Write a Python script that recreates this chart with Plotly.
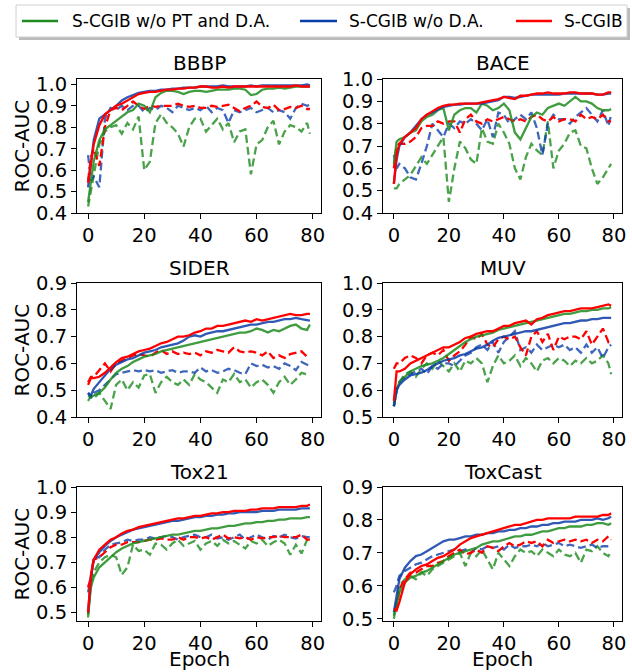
import plotly.graph_objects as go

# ---------------- data ----------------
EPOCHS = [0, 1] + list(range(2, 80, 2)) + [79]

SERIES_NAMES = ["S-CGIB w/o PT and D.A.", "S-CGIB w/o D.A.", "S-CGIB"]
PANEL_TITLES = ["BBBP", "BACE", "SIDER", "MUV", "Tox21", "ToxCast"]
X_TICKS = [0, 20, 40, 60, 80]

# BBBP
bbbp_g_s = [.45,.55,.64,.74,.79,.81,.83,.85,.87,.88,.91,.90,.87,.94,.96,.97,.97,.965,.955,.965,.97,.97,.965,.97,.975,.975,.975,.98,.98,.975,.95,.955,.975,.98,.98,.985,.98,.985,.99,.99,.99,.99]
bbbp_b_s = [.52,.62,.74,.84,.86,.88,.90,.925,.94,.95,.96,.965,.97,.97,.975,.975,.98,.98,.985,.985,.985,.99,.99,.99,.99,.995,.99,.99,.99,.99,.995,.99,.995,.995,.995,.995,.995,.995,.995,.995,1.0,.995]
bbbp_r_s = [.54,.63,.72,.81,.86,.88,.90,.91,.925,.94,.955,.96,.965,.965,.97,.975,.975,.98,.98,.985,.985,.99,.99,.985,.985,.99,.985,.99,.99,.99,.99,.99,.99,.99,.99,.99,.99,.99,.995,.99,.99,.99]
bbbp_g_d = [.43,.50,.58,.72,.78,.80,.81,.77,.82,.79,.85,.60,.64,.82,.86,.82,.80,.77,.71,.80,.84,.84,.78,.81,.84,.79,.82,.73,.78,.79,.58,.72,.74,.80,.83,.72,.78,.81,.80,.78,.82,.77]
bbbp_b_d = [.67,.55,.57,.52,.84,.89,.88,.90,.88,.90,.90,.87,.89,.88,.90,.89,.87,.90,.89,.88,.89,.88,.90,.87,.89,.88,.82,.88,.87,.88,.89,.87,.88,.89,.87,.88,.87,.84,.89,.91,.90,.905]
bbbp_r_d = [.55,.66,.70,.62,.80,.88,.89,.88,.90,.92,.90,.885,.90,.895,.90,.90,.90,.91,.90,.895,.90,.89,.89,.90,.895,.90,.905,.89,.875,.89,.90,.92,.895,.89,.905,.88,.885,.895,.89,.90,.885,.885]

# BACE
bace_g_s = [.62,.72,.73,.74,.76,.77,.81,.83,.84,.86,.87,.77,.84,.86,.87,.87,.85,.89,.88,.86,.87,.89,.86,.76,.73,.78,.83,.85,.84,.87,.88,.89,.88,.90,.92,.90,.90,.89,.87,.86,.86,.865]
bace_b_s = [.53,.64,.70,.74,.76,.79,.82,.84,.85,.865,.875,.88,.885,.885,.89,.89,.89,.89,.895,.90,.905,.92,.92,.915,.92,.925,.93,.93,.93,.93,.93,.93,.935,.935,.935,.935,.935,.935,.93,.93,.935,.935]
bace_r_s = [.53,.66,.71,.74,.76,.78,.82,.84,.855,.87,.88,.885,.885,.89,.89,.89,.89,.895,.90,.905,.91,.92,.915,.91,.925,.925,.93,.935,.935,.94,.935,.935,.935,.94,.94,.935,.935,.935,.93,.93,.94,.94]
bace_g_d = [.51,.51,.53,.55,.57,.61,.65,.62,.66,.70,.74,.45,.60,.72,.69,.64,.62,.78,.72,.71,.80,.76,.71,.60,.55,.65,.71,.68,.66,.81,.60,.68,.71,.76,.77,.70,.69,.60,.53,.56,.60,.62]
bace_b_d = [.66,.60,.62,.60,.56,.55,.62,.70,.80,.77,.74,.80,.78,.81,.80,.82,.80,.77,.82,.74,.85,.84,.80,.82,.84,.82,.85,.78,.66,.80,.84,.82,.82,.80,.83,.85,.87,.84,.81,.86,.79,.84]
bace_r_d = [.60,.70,.71,.71,.72,.74,.78,.79,.79,.81,.80,.81,.81,.76,.82,.84,.81,.80,.82,.81,.82,.83,.82,.81,.82,.81,.83,.84,.82,.81,.83,.81,.82,.82,.81,.84,.82,.83,.82,.84,.81,.81]

# SIDER
sider_g_s = [.48,.475,.48,.49,.51,.54,.565,.58,.59,.605,.615,.625,.63,.635,.645,.65,.655,.66,.665,.67,.675,.68,.685,.69,.695,.70,.705,.71,.715,.715,.72,.73,.725,.715,.725,.72,.73,.74,.745,.73,.725,.745]
sider_b_s = [.49,.48,.505,.53,.555,.58,.595,.605,.615,.62,.63,.64,.645,.65,.66,.665,.67,.675,.685,.70,.705,.70,.71,.715,.72,.72,.725,.73,.735,.74,.745,.745,.75,.755,.755,.76,.765,.765,.77,.765,.76,.76]
sider_r_s = [.52,.545,.545,.55,.565,.585,.605,.62,.625,.635,.645,.65,.655,.665,.675,.68,.69,.70,.70,.705,.715,.72,.73,.73,.74,.74,.745,.75,.755,.76,.755,.765,.76,.765,.77,.775,.78,.785,.78,.78,.785,.785]
sider_g_d = [.46,.48,.47,.49,.46,.43,.52,.54,.50,.53,.51,.555,.56,.49,.53,.55,.53,.52,.54,.52,.56,.54,.53,.51,.49,.54,.53,.56,.53,.54,.51,.53,.54,.52,.49,.53,.55,.52,.54,.565,.56,.555]
sider_b_d = [.49,.47,.49,.50,.52,.54,.56,.565,.57,.575,.57,.575,.57,.575,.565,.57,.575,.565,.57,.57,.565,.585,.57,.575,.565,.57,.58,.575,.565,.56,.60,.59,.595,.585,.59,.58,.60,.59,.575,.605,.595,.59]
sider_r_d = [.53,.55,.55,.575,.60,.57,.60,.61,.62,.63,.635,.63,.625,.64,.65,.635,.645,.635,.64,.635,.64,.63,.645,.64,.65,.645,.64,.66,.645,.64,.645,.64,.63,.645,.62,.63,.62,.635,.64,.645,.625,.62]

# MUV
muv_g_s = [.54,.60,.63,.65,.67,.68,.69,.695,.70,.71,.72,.735,.75,.765,.78,.79,.80,.805,.81,.815,.825,.83,.835,.84,.845,.85,.855,.86,.865,.87,.875,.88,.885,.885,.89,.895,.895,.90,.90,.905,.905,.91]
muv_b_s = [.54,.60,.62,.64,.655,.66,.665,.675,.69,.70,.71,.715,.72,.73,.735,.745,.755,.76,.77,.785,.795,.80,.805,.81,.815,.82,.82,.825,.83,.835,.84,.845,.85,.85,.855,.86,.86,.865,.865,.87,.87,.87]
muv_r_s = [.56,.67,.67,.68,.70,.71,.72,.73,.74,.75,.76,.76,.77,.78,.795,.80,.81,.815,.82,.82,.83,.84,.84,.85,.855,.86,.845,.865,.87,.88,.885,.89,.895,.895,.90,.905,.905,.905,.91,.915,.92,.915]
muv_g_d = [.54,.60,.63,.66,.67,.65,.68,.70,.68,.71,.69,.67,.70,.67,.71,.70,.72,.70,.63,.69,.73,.70,.71,.73,.69,.72,.70,.67,.71,.72,.70,.72,.71,.69,.71,.70,.72,.70,.71,.73,.70,.66]
muv_b_d = [.54,.60,.63,.65,.66,.67,.68,.66,.69,.68,.70,.70,.69,.71,.73,.74,.76,.77,.75,.78,.74,.78,.80,.82,.75,.76,.74,.77,.75,.76,.77,.76,.77,.75,.76,.74,.77,.74,.76,.72,.76,.77]
muv_r_d = [.68,.70,.70,.72,.73,.72,.70,.73,.74,.73,.75,.71,.73,.745,.77,.80,.79,.81,.77,.76,.79,.80,.79,.80,.76,.73,.80,.82,.78,.81,.75,.80,.79,.80,.80,.79,.82,.77,.80,.83,.78,.79]

# Tox21
tox21_g_s = [.49,.60,.64,.68,.70,.72,.74,.755,.765,.775,.78,.785,.79,.795,.80,.805,.81,.81,.815,.82,.825,.825,.83,.835,.835,.84,.845,.845,.85,.855,.855,.86,.86,.865,.865,.87,.87,.875,.875,.875,.88,.88]
tox21_b_s = [.50,.64,.71,.74,.765,.785,.80,.81,.82,.83,.835,.84,.845,.85,.855,.86,.865,.865,.87,.875,.88,.88,.885,.885,.89,.89,.895,.895,.90,.90,.90,.90,.905,.905,.905,.91,.91,.91,.91,.915,.915,.915]
tox21_r_s = [.50,.65,.71,.75,.77,.79,.80,.815,.825,.83,.84,.845,.85,.855,.86,.865,.87,.875,.875,.88,.885,.885,.89,.895,.895,.90,.90,.905,.905,.905,.91,.91,.915,.915,.915,.92,.92,.92,.92,.925,.925,.93]
tox21_g_d = [.48,.62,.66,.70,.72,.73,.72,.65,.68,.77,.745,.75,.73,.775,.77,.75,.775,.79,.765,.775,.785,.75,.775,.785,.765,.79,.775,.785,.77,.755,.785,.775,.79,.765,.78,.79,.775,.73,.77,.735,.79,.785]
tox21_b_d = [.58,.64,.72,.72,.75,.77,.775,.78,.79,.785,.79,.79,.80,.795,.80,.805,.80,.79,.80,.805,.81,.80,.80,.81,.795,.80,.79,.80,.81,.79,.80,.81,.80,.79,.805,.80,.81,.80,.795,.805,.80,.80]
tox21_r_d = [.60,.64,.71,.72,.74,.76,.77,.77,.78,.78,.78,.785,.79,.79,.795,.79,.79,.80,.79,.80,.80,.795,.80,.79,.80,.81,.795,.80,.795,.80,.79,.80,.795,.80,.80,.805,.80,.80,.80,.81,.79,.79]

# ToxCast
toxcast_g_s = [.51,.55,.58,.61,.625,.63,.64,.645,.655,.665,.675,.685,.695,.70,.705,.71,.715,.725,.73,.735,.735,.74,.745,.75,.75,.755,.755,.76,.765,.765,.77,.775,.775,.78,.78,.78,.785,.785,.79,.79,.785,.79]
toxcast_b_s = [.52,.57,.62,.655,.675,.69,.695,.705,.715,.725,.735,.74,.74,.745,.75,.75,.755,.755,.76,.76,.765,.765,.77,.77,.775,.775,.78,.78,.785,.785,.79,.79,.795,.795,.795,.80,.80,.80,.805,.80,.805,.81]
toxcast_r_s = [.53,.525,.55,.61,.635,.65,.66,.665,.675,.685,.69,.70,.71,.725,.735,.745,.75,.755,.76,.765,.77,.775,.78,.785,.785,.79,.795,.80,.80,.805,.805,.805,.805,.805,.81,.81,.81,.81,.81,.815,.815,.82]
toxcast_g_d = [.50,.55,.60,.62,.63,.62,.64,.63,.65,.66,.67,.68,.69,.70,.66,.70,.69,.71,.68,.65,.70,.68,.66,.69,.71,.70,.705,.69,.71,.70,.69,.71,.695,.69,.70,.67,.71,.705,.72,.70,.69,.705]
toxcast_b_d = [.58,.60,.63,.645,.655,.665,.67,.68,.69,.695,.70,.705,.71,.705,.71,.70,.715,.71,.72,.715,.72,.71,.725,.715,.72,.72,.725,.72,.73,.72,.725,.73,.72,.725,.72,.715,.72,.725,.715,.72,.72,.72]
toxcast_r_d = [.53,.53,.59,.62,.64,.64,.65,.66,.66,.67,.675,.69,.70,.71,.695,.70,.71,.70,.72,.715,.705,.72,.73,.72,.725,.735,.73,.735,.72,.74,.73,.735,.74,.735,.74,.735,.74,.73,.74,.735,.75,.74]

# y-axis ranges and ticks per panel
Y_RANGES = [[0.4, 1.025], [0.4, 1.0], [0.4, 0.9], [0.5, 1.0], [0.466, 1.0], [0.493, 0.9]]
Y_TICKS = [[0.4, 0.5, 0.6, 0.7, 0.8, 0.9, 1.0], [0.4, 0.5, 0.6, 0.7, 0.8, 0.9, 1.0],
           [0.4, 0.5, 0.6, 0.7, 0.8, 0.9], [0.5, 0.6, 0.7, 0.8, 0.9, 1.0],
           [0.5, 0.6, 0.7, 0.8, 0.9, 1.0], [0.5, 0.6, 0.7, 0.8, 0.9]]

PANELS = [
    (bbbp_g_s, bbbp_b_s, bbbp_r_s, bbbp_g_d, bbbp_b_d, bbbp_r_d),
    (bace_g_s, bace_b_s, bace_r_s, bace_g_d, bace_b_d, bace_r_d),
    (sider_g_s, sider_b_s, sider_r_s, sider_g_d, sider_b_d, sider_r_d),
    (muv_g_s, muv_b_s, muv_r_s, muv_g_d, muv_b_d, muv_r_d),
    (tox21_g_s, tox21_b_s, tox21_r_s, tox21_g_d, tox21_b_d, tox21_r_d),
    (toxcast_g_s, toxcast_b_s, toxcast_r_s, toxcast_g_d, toxcast_b_d, toxcast_r_d),
]

# ---------------- style ----------------
W, H = 632, 672
FONT = "DejaVu Sans"
COLORS = ["#1e8c1e", "#0b3da8", "#ff0000"]
SOLID_OPACITY = [0.85, 0.85, 1.0]
DASH_OPACITY = [0.8, 0.78, 1.0]

COL_PX = [(77, 321), (383, 622)]
ROW_PX = [(79, 213), (283, 417), (487, 621)]
TITLE_Y_PX = [63, 268, 472]

# manual legend geometry (pixels)
LEG_BOX = (16, 5, 627, 37)
LEG_LINE_X = [(22, 58), (300, 337), (516, 552)]
LEG_TEXT_X = [70, 347, 562]
LEG_Y = 21


def px_x(v):
    return v / W


def px_y(v):
    return 1 - v / H


fig = go.Figure()
annotations = []
shapes = []
layout = dict(
    width=W, height=H, margin=dict(l=0, r=0, t=0, b=0, autoexpand=False),
    paper_bgcolor="white", plot_bgcolor="white",
    font=dict(family=FONT, size=19, color="black"),
    showlegend=False,
)

for p, lines in enumerate(PANELS):
    r, c = divmod(p, 2)
    ax = "" if p == 0 else str(p + 1)
    x0, x1 = COL_PX[c]
    y0, y1 = ROW_PX[r]
    axis_common = dict(showline=True, mirror=True, linecolor="black", linewidth=1,
                       ticks="outside", ticklen=5, tickwidth=1, tickcolor="black",
                       showgrid=False, zeroline=False, automargin=False,
                       tickfont=dict(size=19.5))
    layout["xaxis" + ax] = dict(domain=[px_x(x0), px_x(x1)], anchor="y" + ax,
                                range=[-3.95, 82.95], tickvals=X_TICKS, **axis_common)
    layout["yaxis" + ax] = dict(domain=[px_y(y1), px_y(y0)], anchor="x" + ax,
                                range=Y_RANGES[p], tickvals=Y_TICKS[p], tickformat=".1f",
                                **axis_common)
    for k in range(3):
        fig.add_trace(go.Scatter(
            x=EPOCHS, y=lines[3 + k], mode="lines", xaxis="x" + ax, yaxis="y" + ax,
            line=dict(color=COLORS[k], width=2.3, dash="8px,4px"), opacity=DASH_OPACITY[k],
            name=SERIES_NAMES[k], hoverinfo="skip"))
    for k in range(3):
        fig.add_trace(go.Scatter(
            x=EPOCHS, y=lines[k], mode="lines", xaxis="x" + ax, yaxis="y" + ax,
            line=dict(color=COLORS[k], width=2.3), opacity=SOLID_OPACITY[k],
            name=SERIES_NAMES[k]))
    annotations.append(dict(text=PANEL_TITLES[p], x=px_x((x0 + x1) / 2), y=px_y(TITLE_Y_PX[r]),
                            xref="paper", yref="paper", showarrow=False,
                            xanchor="center", yanchor="middle", font=dict(size=20)))
    if c == 0:
        annotations.append(dict(text="ROC-AUC", x=px_x(21.5), y=px_y((y0 + y1) / 2),
                                xref="paper", yref="paper", showarrow=False, textangle=-90,
                                xanchor="center", yanchor="middle", font=dict(size=20)))
    if r == 2:
        annotations.append(dict(text="Epoch", x=px_x((x0 + x1) / 2), y=px_y(H),
                                xref="paper", yref="paper", showarrow=False, borderpad=0,
                                xanchor="center", yanchor="bottom", font=dict(size=20)))

# legend (drawn by hand to match the reference placement)
bx0, by0, bx1, by1 = LEG_BOX
shapes.append(dict(type="rect", xref="paper", yref="paper", layer="above",
                   x0=px_x(bx0 + 3), x1=px_x(bx1 + 3), y0=px_y(by1 + 3), y1=px_y(by0 + 3),
                   fillcolor="rgba(120,120,120,0.5)", line=dict(width=0)))
shapes.append(dict(type="rect", xref="paper", yref="paper", layer="above",
                   x0=px_x(bx0), x1=px_x(bx1), y0=px_y(by1), y1=px_y(by0),
                   fillcolor="white", line=dict(color="#d0d0d0", width=1)))
for k in range(3):
    lx0, lx1 = LEG_LINE_X[k]
    shapes.append(dict(type="line", xref="paper", yref="paper", layer="above",
                       x0=px_x(lx0), x1=px_x(lx1), y0=px_y(LEG_Y), y1=px_y(LEG_Y),
                       line=dict(color=COLORS[k], width=2.3)))
    annotations.append(dict(text=SERIES_NAMES[k], x=px_x(LEG_TEXT_X[k]), y=px_y(LEG_Y),
                            xref="paper", yref="paper", showarrow=False,
                            xanchor="left", yanchor="middle", font=dict(size=17)))

layout["annotations"] = annotations
layout["shapes"] = shapes
fig.update_layout(**layout)

for arr in PANELS:
    for a in arr:
        assert len(a) == len(EPOCHS), len(a)

# remove the browser's default 8px page margin so the figure sits at the window origin
fig.write_html("out.html", config={"displayModeBar": False},
               post_script="document.body.style.margin='0';document.body.style.overflow='hidden';")
